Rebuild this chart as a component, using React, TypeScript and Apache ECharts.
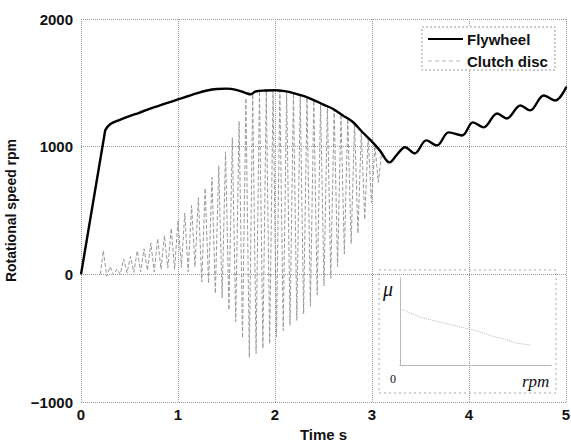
import React, { useEffect, useRef } from "react";
import * as echarts from "echarts";

// Flywheel rotational speed (rpm) vs time (s)
const flywheelTime = [0, 0.25, 0.3, 0.4, 0.5, 0.6, 0.7, 0.8, 0.9, 1.0, 1.1, 1.2, 1.3, 1.4, 1.5, 1.6, 1.7, 1.75, 1.8, 1.9, 2.0, 2.1, 2.2, 2.3, 2.4, 2.5, 2.6, 2.7, 2.8, 2.9, 3.0, 3.08, 3.18, 3.26, 3.34, 3.44, 3.56, 3.67, 3.79, 3.93, 4.04, 4.15, 4.29, 4.39, 4.53, 4.63, 4.77, 4.89, 5.0];
const flywheelSpeed = [0, 1130, 1175, 1210, 1240, 1265, 1295, 1320, 1345, 1370, 1395, 1420, 1440, 1452, 1455, 1445, 1420, 1410, 1432, 1440, 1442, 1435, 1418, 1395, 1365, 1330, 1295, 1245, 1195, 1115, 1040, 971, 877, 940, 995, 947, 1049, 1010, 1112, 1088, 1190, 1151, 1260, 1221, 1323, 1284, 1401, 1362, 1464];
// index where the initial straight ramp ends (t = 0.25 s)
const rampEnd = 1;

// Clutch disc rotational speed (rpm): alternating peaks and troughs
const clutchTime = [0.2, 0.23, 0.265, 0.3, 0.335, 0.37, 0.405, 0.44, 0.475, 0.51, 0.545, 0.58, 0.615, 0.65, 0.685, 0.72, 0.755, 0.79, 0.825, 0.86, 0.895, 0.93, 0.965, 1.0, 1.035, 1.07, 1.105, 1.14, 1.175, 1.21, 1.245, 1.28, 1.315, 1.35, 1.385, 1.42, 1.455, 1.49, 1.525, 1.56, 1.595, 1.63, 1.665, 1.7, 1.735, 1.77, 1.805, 1.84, 1.875, 1.91, 1.945, 1.98, 2.015, 2.05, 2.085, 2.12, 2.155, 2.19, 2.225, 2.26, 2.295, 2.33, 2.365, 2.4, 2.435, 2.47, 2.505, 2.54, 2.575, 2.61, 2.645, 2.68, 2.715, 2.75, 2.785, 2.82, 2.855, 2.89, 2.925, 2.96, 2.995, 3.03, 3.065, 3.1];
const clutchSpeed = [0, 185, -15, 60, -5, 40, 0, 120, 10, 140, 15, 185, 20, 200, 30, 245, 20, 280, 40, 305, 50, 360, 40, 420, 55, 480, 20, 540, 60, 600, -60, 675, -70, 760, -150, 850, -185, 960, -280, 1070, -370, 1200, -500, 1380, -650, 1412, -620, 1434, -580, 1440, -545, 1440, -490, 1438, -440, 1432, -400, 1418, -360, 1405, -310, 1385, -250, 1362, -160, 1340, -90, 1318, -30, 1290, 60, 1255, 160, 1220, 240, 1180, 320, 1125, 430, 1070, 560, 1010, 720, 960];

// Inset: friction coefficient vs relative speed (normalised)
const insetRpm = [0, 0.13, 0.39, 0.51, 0.61, 0.68, 0.77, 0.86];
const insetMu = [0.65, 0.55, 0.44, 0.39, 0.33, 0.3, 0.25, 0.23];

const xTickStep = 1;
const yTickStep = 1000;

const FONT = "Liberation Sans, Arial, sans-serif";
const SERIF = "Liberation Serif, Times New Roman, serif";

function zip(a: number[], b: number[]) {
  return a.map((v, i) => [v, b[i]]);
}

export default function App() {
  const ref = useRef<HTMLDivElement>(null);
  useEffect(() => {
    if (!ref.current) return;
    const chart = echarts.init(ref.current, null, { renderer: "svg" });
    const gridLine = { lineStyle: { type: "dotted", color: "#9a9a9a", width: 1 } };
    const fly = zip(flywheelTime, flywheelSpeed);
    chart.setOption({
      animation: false,
      backgroundColor: "#fff",
      textStyle: { fontFamily: FONT },
      grid: [
        { left: 81, right: 5, top: 19, bottom: 40, containLabel: false, outerBoundsMode: "none" },
        { left: 400, top: 278, width: 152, height: 87, containLabel: false, outerBoundsMode: "none" },
      ],
      xAxis: [
        {
          type: "value",
          gridIndex: 0,
          min: 0,
          max: 5,
          interval: xTickStep,
          name: "Time s",
          nameLocation: "middle",
          nameGap: 19,
          nameTextStyle: { fontSize: 15, fontWeight: "bold", color: "#111", fontFamily: FONT },
          axisLine: { show: false },
          axisTick: { show: false },
          axisLabel: { margin: 5, fontSize: 15, fontWeight: "bold", color: "#111", fontFamily: FONT },
          splitLine: { show: true, ...gridLine },
        },
        {
          type: "value",
          gridIndex: 1,
          min: 0,
          max: 1,
          axisLine: { show: true, onZero: false, lineStyle: { type: "dotted", color: "#aaa" } },
          axisTick: { show: false },
          axisLabel: { show: false },
          splitLine: { show: false },
        },
      ],
      yAxis: [
        {
          type: "value",
          gridIndex: 0,
          min: -1000,
          max: 2000,
          interval: yTickStep,
          name: "Rotational speed rpm",
          nameLocation: "middle",
          nameGap: 63,
          nameTextStyle: { fontSize: 14, fontWeight: "bold", color: "#111", fontFamily: FONT },
          axisLine: { show: false },
          axisTick: { show: false },
          axisLabel: {
            margin: 8,
            fontSize: 15,
            fontWeight: "bold",
            color: "#111",
            fontFamily: FONT,
            formatter: (v: number) => String(v).replace("-", "\u2212"),
          },
          splitLine: { show: true, ...gridLine },
        },
        {
          type: "value",
          gridIndex: 1,
          min: 0,
          max: 1,
          axisLine: { show: true, onZero: false, lineStyle: { type: "dotted", color: "#aaa" } },
          axisTick: { show: false },
          axisLabel: { show: false },
          splitLine: { show: false },
        },
      ],
      series: [
        {
          name: "Clutch disc",
          type: "line",
          xAxisIndex: 0,
          yAxisIndex: 0,
          data: zip(clutchTime, clutchSpeed),
          showSymbol: false,
          lineStyle: { color: "#999", width: 1, type: [4, 2] },
          z: 1,
        },
        {
          name: "Flywheel ramp",
          type: "line",
          xAxisIndex: 0,
          yAxisIndex: 0,
          data: fly.slice(0, rampEnd + 1),
          showSymbol: false,
          lineStyle: { color: "#000", width: 2.4 },
          z: 3,
        },
        {
          name: "Flywheel",
          type: "line",
          xAxisIndex: 0,
          yAxisIndex: 0,
          data: fly.slice(rampEnd),
          showSymbol: false,
          smooth: 0.35,
          lineStyle: { color: "#000", width: 2.4, cap: "round", join: "round" },
          z: 3,
        },
        {
          name: "mu",
          type: "line",
          xAxisIndex: 1,
          yAxisIndex: 1,
          data: zip(insetRpm, insetMu),
          showSymbol: false,
          lineStyle: { color: "#bbb", width: 1, type: "dotted" },
        },
      ],
      graphic: [
        {
          type: "rect",
          shape: { x: 422, y: 27, width: 133, height: 43 },
          style: { fill: "#fff", stroke: "#999", lineWidth: 1, lineDash: [2, 2] },
          z: 10,
        },
        {
          type: "line",
          shape: { x1: 428, y1: 39, x2: 463, y2: 39 },
          style: { stroke: "#000", lineWidth: 2 },
          z: 11,
        },
        {
          type: "line",
          shape: { x1: 428, y1: 61, x2: 463, y2: 61 },
          style: { stroke: "#bbb", lineWidth: 1, lineDash: [4, 3] },
          z: 11,
        },
        {
          type: "text",
          x: 467,
          y: 39,
          style: { text: "Flywheel", font: `bold 15px ${FONT}`, fill: "#111", verticalAlign: "middle" },
          z: 11,
        },
        {
          type: "text",
          x: 467,
          y: 61,
          style: { text: "Clutch disc", font: `bold 15px ${FONT}`, fill: "#111", verticalAlign: "middle" },
          z: 11,
        },
        {
          type: "rect",
          shape: { x: 379, y: 270, width: 177, height: 123 },
          style: { fill: "transparent", stroke: "#aaa", lineWidth: 1, lineDash: [2, 3] },
          z: 5,
        },
        {
          type: "text",
          x: 383,
          y: 289,
          style: { text: "\u03bc", font: `italic 20px ${SERIF}`, fill: "#111", verticalAlign: "middle" },
          z: 11,
        },
        {
          type: "text",
          x: 390,
          y: 379,
          style: { text: "0", font: `12px ${SERIF}`, fill: "#111", verticalAlign: "middle" },
          z: 11,
        },
        {
          type: "text",
          x: 522,
          y: 381,
          style: { text: "rpm", font: `italic 17px ${SERIF}`, fill: "#111", verticalAlign: "middle" },
          z: 11,
        },
      ],
    });
    return () => chart.dispose();
  }, []);
  return (
    <div
      ref={ref}
      style={{ position: "fixed", left: 0, top: 0, width: 571, height: 442, background: "#fff" }}
    />
  );
}
